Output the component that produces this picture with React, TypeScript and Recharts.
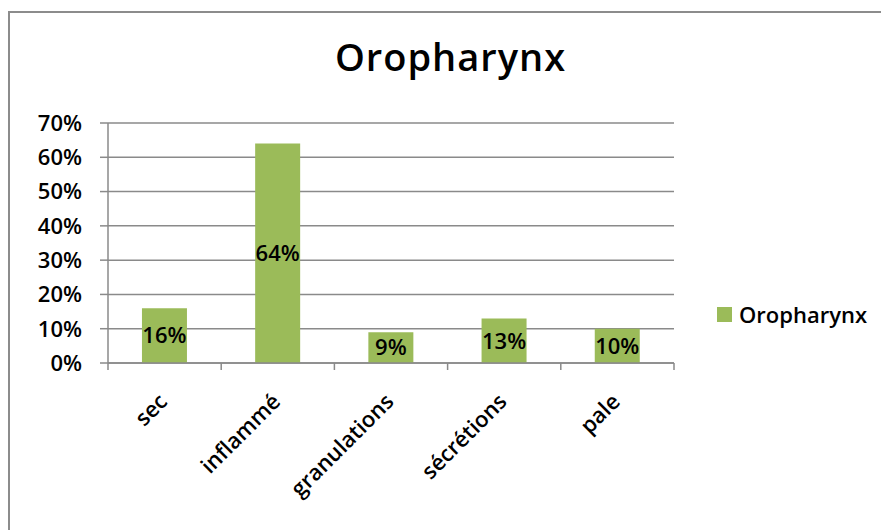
import React from 'react';
import { BarChart, Bar, XAxis, YAxis, CartesianGrid, Legend, LabelList } from 'recharts';

const categories = ['sec', 'inflammé', 'granulations', 'sécrétions', 'pale'];
const values = [0.16, 0.64, 0.09, 0.13, 0.10];
const yTicks = [0, 0.1, 0.2, 0.3, 0.4, 0.5, 0.6, 0.7];
const seriesName = 'Oropharynx';
const title = 'Oropharynx';

const data = categories.map((c, i) => ({ name: c, value: values[i] }));

const FONT = '"Open Sans", sans-serif';
const GRID = '#8a8a8a';
const GREEN = '#9BBB59';
const WEIGHT = 600;

const pct = (v: any) => `${Math.round(Number(v) * 100)}%`;

const XTick = (props: any) => {
  const { x, y, payload, index, visibleTicksCount } = props;
  const half = payload && payload.offset ? payload.offset : 0;
  const axisY = y - 9;
  const isLast = index === visibleTicksCount - 1;
  return (
    <g>
      <line x1={x - half} x2={x - half} y1={axisY} y2={axisY + 7} stroke={GRID} strokeWidth={1.5} />
      {isLast && (
        <line x1={x + half} x2={x + half} y1={axisY} y2={axisY + 7} stroke={GRID} strokeWidth={1.5} />
      )}
      <text
        transform={`translate(${x + 4},${y + 31}) rotate(-45)`}
        textAnchor="end"
        fontSize={22}
        fontWeight={WEIGHT}
        fontFamily={FONT}
        fill="#000"
      >
        {payload.value}
      </text>
    </g>
  );
};

const LegendContent = () => (
  <div style={{ display: 'flex', alignItems: 'center', height: 28, fontFamily: FONT }}>
    <span style={{ display: 'inline-block', width: 15, height: 15, background: GREEN }} />
    <span style={{ marginLeft: 7, fontSize: 22, fontWeight: WEIGHT, lineHeight: '28px', color: '#000' }}>{seriesName}</span>
  </div>
);

export default function App() {
  return (
    <div>
      <div
        style={{
          position: 'absolute',
          left: 8,
          top: 11,
          width: 873,
          height: 519,
          boxSizing: 'border-box',
          borderLeft: '2px solid #8c8c8c',
          borderTop: '2px solid #8c8c8c',
          background: '#fff',
        }}
      />
      <div
        style={{
          position: 'absolute',
          left: 0,
          top: 37,
          width: 901,
          textAlign: 'center',
          fontFamily: FONT,
          fontSize: 38,
          fontWeight: WEIGHT,
          lineHeight: '38px',
          letterSpacing: 1,
          color: '#000',
        }}
      >
        {title}
      </div>
      <div style={{ position: 'absolute', left: 0, top: 0 }}>
        <BarChart
          width={881}
          height={530}
          data={data}
          margin={{ top: 123, right: 207, bottom: 107, left: 8 }}
          barCategoryGap="30%"
        >
          <CartesianGrid vertical={false} stroke={GRID} strokeWidth={1.5} />
          <XAxis
            dataKey="name"
            height={60}
            tickLine={false}
            tickSize={7}
            tickMargin={2}
            axisLine={{ stroke: GRID, strokeWidth: 1.5 }}
            tick={<XTick />}
            interval={0}
          />
          <YAxis
            width={100}
            domain={[0, 0.7]}
            ticks={yTicks}
            tickFormatter={pct}
            tickSize={8}
            tickMargin={18}
            tickLine={{ stroke: GRID, strokeWidth: 1.5 }}
            axisLine={{ stroke: GRID, strokeWidth: 1.5 }}
            tick={{ fill: '#000', fontSize: 22, fontWeight: WEIGHT, fontFamily: FONT }}
          />
          <Legend
            layout="horizontal"
            verticalAlign="middle"
            align="center"
            wrapperStyle={{ left: 717, top: 300, width: 164 }}
            content={<LegendContent />}
          />
          <Bar dataKey="value" name={seriesName} fill={GREEN} isAnimationActive={false}>
            <LabelList
              dataKey="value"
              position="center"
              formatter={pct}
              fill="#000"
              fontSize={22}
              fontWeight={WEIGHT}
              fontFamily={FONT}
            />
          </Bar>
        </BarChart>
      </div>
    </div>
  );
}
